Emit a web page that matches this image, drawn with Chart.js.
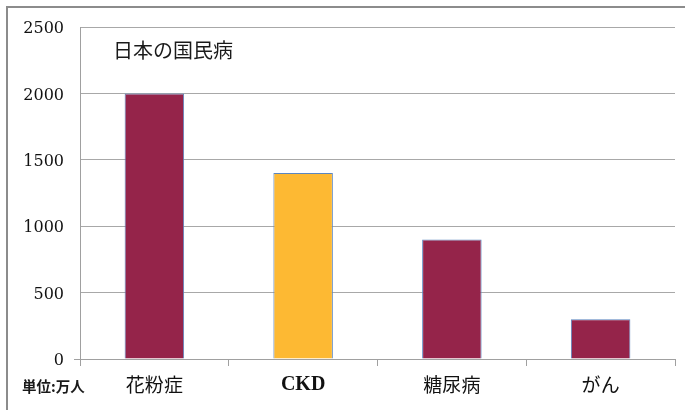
<!DOCTYPE html>
<html>
<head>
<meta charset="utf-8">
<script src="https://cdn.jsdelivr.net/npm/chart.js@4"></script>
<style>
  html, body { margin: 0; padding: 0; background: #fff; overflow: hidden; }
  canvas { display: block; }
</style>
</head>
<body>
<canvas id="chart" width="686" height="410"></canvas>
<script>
const categories = ['花粉症', 'CKD', '糖尿病', 'がん'];
const patients = [2000, 1400, 900, 300];
const barColors = ['#95244a', '#fdb933', '#95244a', '#95244a'];
const yTicks = [0, 500, 1000, 1500, 2000, 2500];
const chartTitle = '日本の国民病';
const unitLabel = '単位:万人';

const cjk = '"Noto Sans CJK JP", "Noto Sans", sans-serif';

// frame line (top and left only, as in the cropped original) plus free text
const extraText = {
  id: 'extraText',
  afterDraw(chart) {
    const c = chart.ctx;
    c.save();
    c.strokeStyle = '#8c8c8c';
    c.lineWidth = 2;
    c.beginPath();
    c.moveTo(7, chart.height);
    c.lineTo(7, 7);
    c.lineTo(chart.width - 1, 7);
    c.stroke();
    c.fillStyle = '#1a1a1a';
    c.textBaseline = 'middle';
    c.textAlign = 'left';
    c.font = '20px ' + cjk;
    c.fillText(chartTitle, 113, 50);
    c.font = 'bold 14.5px ' + cjk;
    c.fillText(unitLabel, 22, 386);
    c.restore();
  }
};

new Chart(document.getElementById('chart').getContext('2d'), {
  type: 'bar',
  data: {
    labels: categories,
    datasets: [{
      data: patients,
      backgroundColor: barColors,
      borderColor: '#5b86c0',
      borderWidth: 1,
      barPercentage: 0.4,
      categoryPercentage: 1
    }]
  },
  options: {
    responsive: false,
    animation: false,
    layout: { padding: { top: 27, right: 11, left: 0, bottom: 0 } },
    plugins: { legend: { display: false }, tooltip: { enabled: false } },
    scales: {
      x: {
        afterFit(scale) { scale.height = 51; },
        grid: { offset: true, drawOnChartArea: false, color: '#a0a0a0', tickLength: 7 },
        border: { color: '#a0a0a0' },
        ticks: {
          color: '#111',
          padding: 7,
          font(ctx) {
            return ctx.index === 1
              ? { family: '"Liberation Serif", serif', size: 20, weight: 'bold' }
              : { family: cjk, size: 19 };
          }
        }
      },
      y: {
        min: 0,
        max: 2500,
        afterFit(scale) { scale.width = 80; },
        afterBuildTicks(scale) { scale.ticks = yTicks.map(v => ({ value: v })); },
        grid: {
          color: '#a8a8a8',
          tickLength: 6,
          tickColor(ctx) { return ctx.tick && ctx.tick.value === 0 ? '#a0a0a0' : 'rgba(0,0,0,0)'; }
        },
        border: { color: '#a0a0a0' },
        ticks: {
          color: '#111',
          padding: 10,
          labelOffset: 2,
          callback(value) { return String(value); },
          font: { family: '"DejaVu Serif", serif', size: 16 }
        }
      }
    }
  },
  plugins: [extraText]
});
</script>
</body>
</html>
